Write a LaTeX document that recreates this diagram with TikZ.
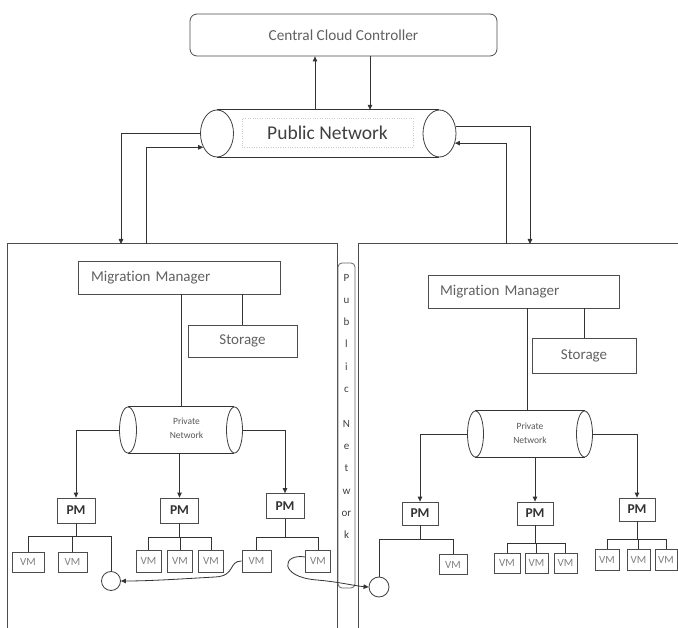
\documentclass[tikz,border=0pt]{standalone}
\usepackage{fontspec}
\setmainfont{Carlito}[Ligatures=NoCommon]
\usetikzlibrary{arrows.meta,shapes.geometric}
\begin{document}
\begin{tikzpicture}[x=1pt,y=-1pt,
  ln/.style={draw=black!80, line width=0.8pt},
  arr/.style={ln, -{Triangle[length=5pt,width=4.5pt]}},
  box/.style={draw=black!70, line width=0.8pt, fill=white, text=black!62, inner sep=0pt},
  pmbox/.style={box, minimum width=38pt, minimum height=25pt, text=black!80, font=\fontsize{13.5}{15}\selectfont\bfseries},
  vmbox/.style={box, minimum width=29pt, minimum height=20pt, text=black!50, font=\fontsize{11}{12}\selectfont},
  pipeend/.style={ellipse, draw=black!75, line width=0.8pt, fill=white, inner sep=0pt},
  hole/.style={circle, draw=black!75, line width=0.8pt, fill=white, inner sep=0pt},
  panel/.style={draw=black!70, line width=1pt}]
\fill[white] (0,0) rectangle (678,628);
\useasboundingbox (0,0) rectangle (678,628);

% central controller
\node[box, rounded corners=7pt, minimum width=307pt, minimum height=42pt,
  font=\fontsize{15.3}{17}\selectfont] (ccc) at (343.5,35) {Central Cloud Controller};

% public network pipe
\node[minimum width=222pt, minimum height=47pt, inner sep=0pt] (pub) at (328,133.5) {};
\draw[ln] (pub.north west) -- (pub.north east) (pub.south west) -- (pub.south east);
\node[pipeend, minimum width=33pt, minimum height=47pt] (pubL) at (217,133.5) {};
\node[pipeend, minimum width=33pt, minimum height=47pt] (pubR) at (439.5,133.5) {};
\node[draw=black!20, dotted, minimum width=171pt, minimum height=29pt, inner sep=0pt,
  text=black!75, font=\fontsize{19.5}{21}\selectfont] (pubt) at (327.5,132.5) {Public Network};

\coordinate (u1) at ([xshift=-13pt]pub.north);
\coordinate (d1) at ([xshift=42pt]pub.north);
\draw[arr] (u1) -- (u1 |- ccc.south);
\draw[arr] (d1 |- ccc.south) -- (d1);

% panels
\draw[panel] (7,628) -- (7,244) -- (337,244) -- (337,628);
\draw[panel] (358,628) -- (358,244) -- (678,244);
\coordinate (lt1) at (121,244);
\coordinate (lt2) at (146,244);
\coordinate (rt1) at (530,244);
\coordinate (rt2) at (506,244);
\draw[arr] (pubL.west) -| (lt1);
\draw[arr] (lt2) |- (pubL.225);
\draw[arr] (pubR.25) -| (rt1);
\draw[arr] (rt2) |- (pubR.328);

% vertical public network bar
\node[draw=black!60, line width=0.8pt, rounded corners=4pt, minimum width=17pt,
  minimum height=325pt, inner sep=0pt] (vbar) at (346.5,425.5) {};
\node[font=\fontsize{11}{22.2}\selectfont, align=center, anchor=north, text=black!75,
  inner sep=0pt] (vtxt) at (346.5,274) {P\\u\\b\\l\\i\\c\\[13pt]N\\e\\t\\w\\or\\k};

% ---------- left panel ----------
\node[box, text width=176pt, align=left, inner xsep=13pt, minimum height=33pt,
  font=\fontsize{15}{17}\selectfont] (mm1) at (179,277.5) {Migration Manager};
\node[box, minimum width=109pt, minimum height=32pt, font=\fontsize{15}{17}\selectfont]
  (st1) at (242.5,341) {Storage};
\node[minimum width=106.5pt, minimum height=46pt, inner sep=0pt] (pv1) at (181,430) {};
\draw[ln] (mm1.south -| st1.north) -- (st1.north);
\draw[ln] (mm1.south -| pv1.north) -- (pv1.north);
\draw[ln] (pv1.north west) -- (pv1.north east) (pv1.south west) -- (pv1.south east);
\node[pipeend, minimum width=17pt, minimum height=46pt] (pv1L) at (128,430) {};
\node[pipeend, minimum width=16pt, minimum height=46pt] (pv1R) at (234.5,430) {};
\node[align=center, text=black!65, font=\fontsize{9.5}{14}\selectfont, inner sep=0pt]
  (pvt1) at (186.5,428) {Private\\Network};

\node[pmbox] (pm1) at (76,510.5) {PM};
\node[pmbox] (pm2) at (179.5,510.5) {PM};
\node[pmbox] (pm3) at (285,506) {PM};
\draw[arr] (pv1L.west) -| (pm1.north);
\draw[arr] (pm2.north |- pv1.south) -- (pm2.north);
\draw[arr] (pv1R.east) -| (pm3.north);

\node[vmbox, minimum width=32pt] (vm1a) at (28,562) {VM};
\node[vmbox] (vm1b) at (72.5,562) {VM};
\node[hole, minimum size=19pt] (c1) at (111,581) {};
\draw[ln] (pm1.south) -- ++(0,13) -| (vm1a.north);
\draw[ln] (pm1.south) -- ++(0,13) -| (vm1b.north);
\draw[ln] (pm1.south) -- ++(0,13) -| (c1.north);

\node[vmbox, minimum width=25pt, minimum height=22pt] (vm2a) at (148.5,561) {VM};
\node[vmbox, minimum width=25pt, minimum height=22pt] (vm2b) at (180,561) {VM};
\node[vmbox, minimum width=25pt, minimum height=22pt] (vm2c) at (211,561) {VM};
\draw[ln] (pm2.south) -- ++(0,14) -| (vm2a.north);
\draw[ln] (pm2.south) -- ++(0,14) -| (vm2b.north);
\draw[ln] (pm2.south) -- ++(0,14) -| (vm2c.north);

\node[vmbox, minimum height=22pt] (vm3a) at (256.5,561) {VM};
\node[vmbox, minimum width=25pt, minimum height=22pt] (vm3b) at (318,561) {VM};
\draw[ln] (pm3.south) -- ++(0,18) -| (vm3a.north);
\draw[ln] (pm3.south) -- ++(0,18) -| (vm3b.north);

% ---------- right panel ----------
\node[box, text width=167pt, align=left, inner xsep=12pt, minimum height=33pt,
  font=\fontsize{15}{17}\selectfont] (mm2) at (523.5,291.5) {Migration Manager};
\node[box, minimum width=104pt, minimum height=35pt, font=\fontsize{15}{17}\selectfont]
  (st2) at (584,355.5) {Storage};
\node[minimum width=109pt, minimum height=46pt, inner sep=0pt] (pv2) at (530,434) {};
\draw[ln] (mm2.south -| st2.north) -- (st2.north);
\draw[ln] ([xshift=-3pt]mm2.south -| pv2.north) -- ([xshift=-3pt]pv2.north);
\draw[ln] (pv2.north west) -- (pv2.north east) (pv2.south west) -- (pv2.south east);
\node[pipeend, minimum width=16pt, minimum height=46pt] (pv2L) at (475.5,434) {};
\node[pipeend, minimum width=16pt, minimum height=46pt] (pv2R) at (584.5,434) {};
\node[align=center, text=black!65, font=\fontsize{9.5}{14}\selectfont, inner sep=0pt]
  (pvt2) at (530,433) {Private\\Network};

\node[pmbox, minimum width=36pt, minimum height=23pt] (pm4) at (420,513.5) {PM};
\node[pmbox, minimum width=36pt, minimum height=23pt] (pm5) at (535,513.5) {PM};
\node[pmbox, minimum width=36pt, minimum height=23pt] (pm6) at (637,509.5) {PM};
\draw[arr] (pv2L.west) -| (pm4.north);
\draw[arr] (pm5.north |- pv2.south) -- (pm5.north);
\draw[arr] (pv2R.east) -| (pm6.north);

\node[hole, minimum size=20pt] (c2) at (379,587) {};
\node[vmbox, minimum width=28pt] (vm4a) at (453,564.5) {VM};
\draw[ln] (pm4.south) -- ++(0,14) -| (c2.north);
\draw[ln] (pm4.south) -- ++(0,14) -| (vm4a.north);

\node[vmbox, minimum width=26pt] (vm5a) at (507,563) {VM};
\node[vmbox, minimum width=23pt] (vm5b) at (536.5,563) {VM};
\node[vmbox, minimum width=23pt] (vm5c) at (565.5,563) {VM};
\draw[ln] (pm5.south) -- ++(0,18) -| (vm5a.north);
\draw[ln] (pm5.south) -- ++(0,18) -| (vm5b.north);
\draw[ln] (pm5.south) -- ++(0,18) -| (vm5c.north);

\node[vmbox, minimum width=24pt, minimum height=21pt] (vm6a) at (607,559.5) {VM};
\node[vmbox, minimum width=23pt, minimum height=21pt] (vm6b) at (638.5,559.5) {VM};
\node[vmbox, minimum width=22pt, minimum height=21pt] (vm6c) at (666,559.5) {VM};
\draw[ln] (pm6.south) -- ++(0,18) -| (vm6a.north);
\draw[ln] (pm6.south) -- ++(0,18) -| (vm6b.north);
\draw[ln] (pm6.south) -- ++(0,18) -| (vm6c.north);

% migration curves
\draw[arr] (vm3a.west) .. controls (228,561) and (236,576) .. (215,577)
  .. controls (180,579) and (150,581) .. (c1.east);
\draw[arr] ([yshift=4pt]vm3b.west) .. controls (282,553) and (278,577) .. (317,580)
  .. controls (340,582) and (355,586) .. (c2.west);
\end{tikzpicture}
\end{document}
